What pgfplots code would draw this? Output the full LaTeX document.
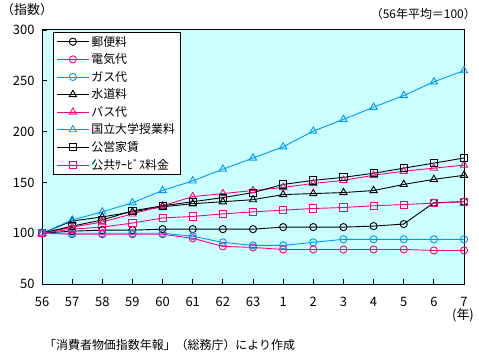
\documentclass[border=0pt]{standalone}
\usepackage{pgfplots}
\pgfplotsset{compat=1.18}
\usepackage{fontspec}
\setmainfont{Noto Sans CJK JP}
\definecolor{bgc}{HTML}{CCFFFF}
\definecolor{pk}{HTML}{FF0080}
\definecolor{bl}{HTML}{0099FF}
\begin{document}
\begin{tikzpicture}[x=1bp,y=1bp]
\useasboundingbox (0,0) rectangle (479,355);
\begin{axis}[
  at={(42bp,71bp)}, anchor=south west,
  scale only axis, width=422bp, height=254bp,
  xmin=0, xmax=14, ymin=50, ymax=300,
  xtick={0,...,14},
  xticklabels={56,57,58,59,60,61,62,63,1,2,3,4,5,6,7},
  ytick={50,100,150,200,250,300},
  tick pos=left, tick align=inside,
  major tick length=5bp,
  tick style={black, line width=0.8bp},
  axis line style={black, line width=1bp},
  axis background/.style={fill=bgc},
  ticklabel style={font=\fontsize{13}{13}\selectfont},
  /pgf/number format/assume math mode=true,
  xticklabel style={yshift=-10bp},
  yticklabel style={xshift=-4bp},
  every axis plot/.append style={line width=0.9bp, mark options={fill=white, solid, line width=0.9bp}},
  legend style={at={(rel axis cs:0.026,0.992)}, anchor=north west,
     font=\fontsize{12}{12}\selectfont, draw=black, line width=0.9bp, fill=white,
     inner xsep=3bp, inner ysep=1.5bp, row sep=2.1bp,
     cells={anchor=west}},
  legend image code/.code={\draw[#1, mark repeat=2, mark phase=2] plot coordinates {(0bp,0bp) (16bp,0bp) (32bp,0bp)};},
]
\addplot[black, mark=o, mark size=3.6bp] coordinates {(0,100)(1,102)(2,103)(3,103)(4,104)(5,104)(6,104)(7,104)(8,106)(9,106)(10,106)(11,107)(12,109)(13,130)(14,131)};
\addlegendentry{郵便料}
\addplot[pk, mark=o, mark size=3.6bp] coordinates {(0,100)(1,99)(2,99)(3,99)(4,99)(5,95)(6,87)(7,86)(8,84)(9,84)(10,84)(11,84)(12,84)(13,83)(14,83)};
\addlegendentry{電気代}
\addplot[bl, mark=o, mark size=3.6bp] coordinates {(0,100)(1,100)(2,100)(3,100)(4,100)(5,97)(6,91)(7,88)(8,88)(9,91)(10,94)(11,94)(12,94)(13,94)(14,94)};
\addlegendentry{ガス代}
\addplot[black, mark=triangle, mark size=4.2bp] coordinates {(0,100)(1,112)(2,116)(3,121)(4,126)(5,129)(6,131)(7,133)(8,138)(9,139)(10,140)(11,142)(12,148)(13,153)(14,157)};
\addlegendentry{水道料}
\addplot[pk, mark=triangle, mark size=4.2bp] coordinates {(0,100)(1,106)(2,111)(3,119)(4,127)(5,136)(6,139)(7,142)(8,145)(9,149)(10,152)(11,157)(12,161)(13,164)(14,167)};
\addlegendentry{バス代}
\addplot[bl, mark=triangle, mark size=4.2bp] coordinates {(0,100)(1,113)(2,121)(3,130)(4,142)(5,151.5)(6,163)(7,174)(8,185)(9,200.5)(10,212)(11,224)(12,235.5)(13,249)(14,260)};
\addlegendentry{国立大学授業料}
\addplot[black, mark=square, mark size=3.6bp] coordinates {(0,100)(1,107)(2,113)(3,122)(4,127)(5,131)(6,135)(7,140)(8,148)(9,152)(10,155)(11,159)(12,164)(13,169)(14,174)};
\addlegendentry{公営家賃}
\addplot[pk, mark=square, mark size=3.6bp] coordinates {(0,100)(1,104)(2,106)(3,110)(4,115)(5,116.5)(6,119)(7,121)(8,122.7)(9,124.3)(10,125.3)(11,127)(12,128.2)(13,129.6)(14,131)};
\addlegendentry{公共ｻｰﾋﾞｽ料金}
\end{axis}
\node[anchor=west, font=\fontsize{13}{13}\selectfont, inner sep=0] at (1,345) {（指数）};
\node[anchor=east, font=\fontsize{12}{12}\selectfont, inner sep=0] at (476,341) {（56年平均＝100）};
\node[anchor=center, font=\fontsize{13}{13}\selectfont, inner sep=0] at (463,40) {(年)};
\node[anchor=west, font=\fontsize{12}{12}\selectfont, inner sep=0] at (44,10) {「消費者物価指数年報」（総務庁）により作成};
\end{tikzpicture}
\end{document}
